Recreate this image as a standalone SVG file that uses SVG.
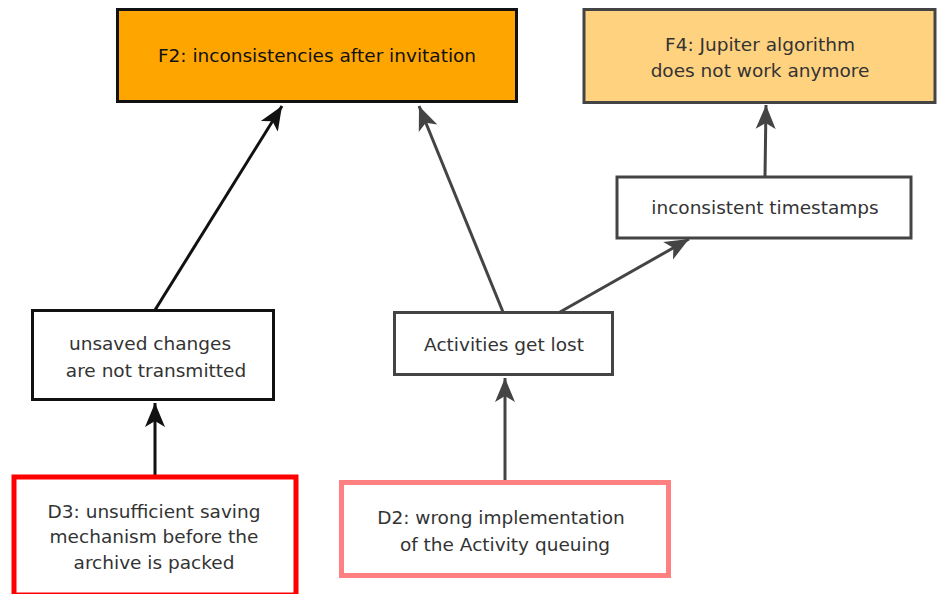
<svg xmlns="http://www.w3.org/2000/svg" width="938" height="594" viewBox="0 0 938 594">
<style>
text{font-family:"DejaVu Sans","Liberation Sans",sans-serif;font-size:18.5px;text-anchor:middle;fill:#333;}
.dark{fill:#111;}
.box{fill:#fff;stroke:#444;stroke-width:3;}
.blk{stroke:#111;}
.con{fill:none;stroke-width:3;}
</style>
<defs>
<marker id="ab" markerUnits="userSpaceOnUse" markerWidth="26" markerHeight="22" viewBox="0 0 26 22" refX="24" refY="11" orient="auto">
<path d="M0,1 L24,11 L0,21 L6,11 Z" fill="#111"/>
</marker>
<marker id="ag" markerUnits="userSpaceOnUse" markerWidth="26" markerHeight="22" viewBox="0 0 26 22" refX="24" refY="11" orient="auto">
<path d="M0,1 L24,11 L0,21 L6,11 Z" fill="#444"/>
</marker>
</defs>
<g id="connectors" class="con">
<path d="M155,310 L282,106" stroke="#111" marker-end="url(#ab)"/>
<path d="M155,475 L155,403" stroke="#111" marker-end="url(#ab)"/>
<path d="M503,312 L419,106" stroke="#444" marker-end="url(#ag)"/>
<path d="M560,312 L689,239" stroke="#444" marker-end="url(#ag)"/>
<path d="M765,176 L766,105" stroke="#444" marker-end="url(#ag)"/>
<path d="M505,481 L505,378" stroke="#444" marker-end="url(#ag)"/>
</g>
<g id="F2">
<rect x="117.5" y="9.5" width="399" height="92" fill="#ffa500" stroke="#111" stroke-width="3"/>
<text x="317" y="62" class="dark">F2: inconsistencies after invitation</text>
</g>
<g id="F4">
<rect x="584" y="9.5" width="351" height="93" fill="#ffd280" stroke="#444" stroke-width="3"/>
<text x="760" y="51">F4: Jupiter algorithm</text>
<text x="760" y="77">does not work anymore</text>
</g>
<g id="timestamps">
<rect class="box" x="617" y="177" width="294" height="61"/>
<text x="765" y="214">inconsistent timestamps</text>
</g>
<g id="activities">
<rect class="box" x="394.5" y="312.5" width="218" height="62"/>
<text x="504" y="351">Activities get lost</text>
</g>
<g id="unsaved">
<rect class="box blk" x="32.5" y="310.5" width="241" height="89"/>
<text x="150" y="350">unsaved changes</text>
<text x="156" y="377">are not transmitted</text>
</g>
<g id="D3">
<rect x="14" y="477" width="282" height="118" fill="#fff" stroke="#ff0000" stroke-width="5"/>
<text x="154" y="518">D3: unsufficient saving</text>
<text x="154" y="543">mechanism before the</text>
<text x="154" y="569">archive is packed</text>
</g>
<g id="D2">
<rect x="341.5" y="482.5" width="327" height="93" fill="#fff" stroke="#ff8080" stroke-width="5"/>
<text x="501" y="524">D2: wrong implementation</text>
<text x="505" y="551">of the Activity queuing</text>
</g>
</svg>
